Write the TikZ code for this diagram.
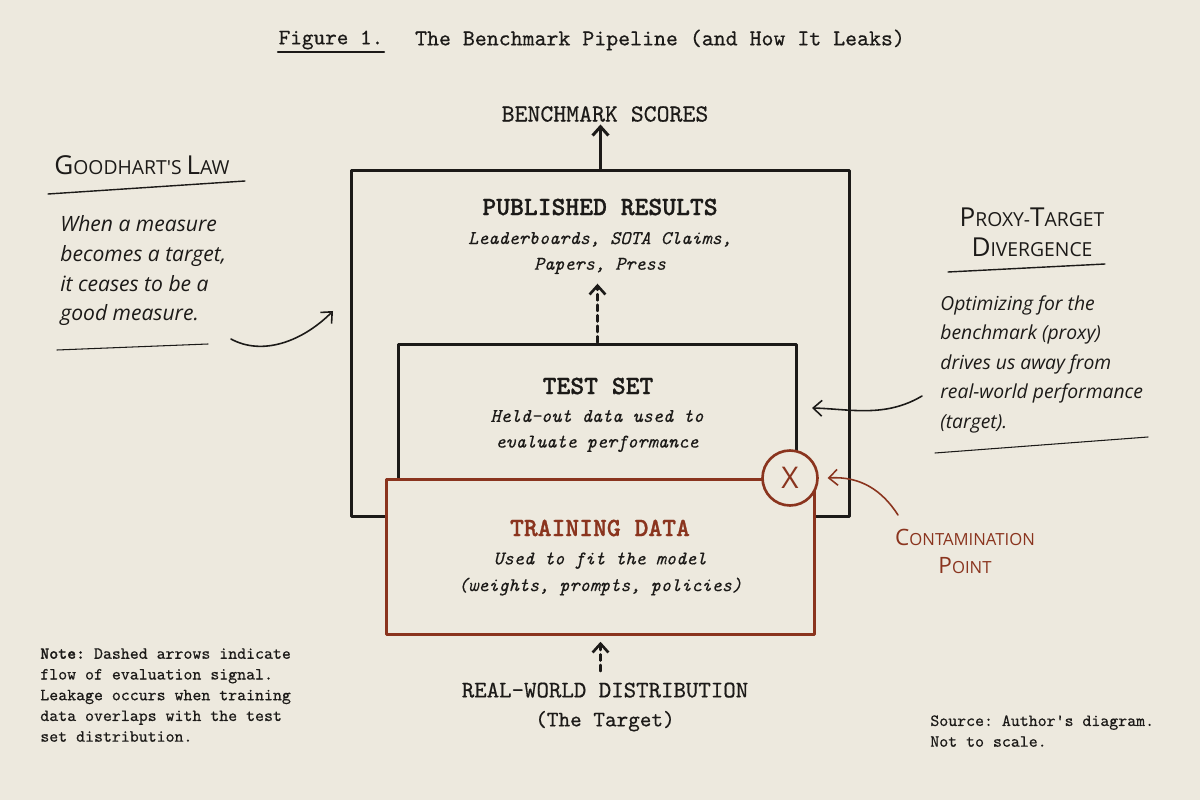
\documentclass[tikz,border=0pt]{standalone}
\usepackage{fontspec}
\setmonofont{lmmono10-regular.otf}[ItalicFont=lmmono10-italic.otf,BoldFont=lmmonolt10-bold.otf,
	UprightFeatures={FakeBold=0.5},ItalicFeatures={FakeBold=0.3},BoldFeatures={FakeBold=1}]
\newfontfamily\handfont{Open Sans}
\usetikzlibrary{arrows.meta,positioning}
\definecolor{paper}{RGB}{237,233,222}
\definecolor{ink}{RGB}{28,26,24}
\definecolor{rust}{RGB}{138,52,30}
\newcommand\hcap[1]{\scalebox{1.35}{#1}}
\begin{document}
\begin{tikzpicture}[x=0.02cm,y=-0.02cm,>={Straight Barb[length=5pt,width=9pt]},line join=round,line cap=round,
	box/.style={draw=ink,line width=1.7pt,inner sep=0pt},
	head/.style={font=\ttfamily\bfseries\fontsize{15}{18}\selectfont,text=ink},
	sub/.style={font=\ttfamily\itshape\fontsize{11}{14.6}\selectfont,text=ink,align=center},
	outlbl/.style={font=\ttfamily\fontsize{13.5}{16.5}\selectfont,text=ink,align=center},
	small/.style={font=\ttfamily\fontsize{9.7}{11.8}\selectfont,text=ink,align=left,anchor=north west,inner sep=0pt},
	hand/.style={font=\handfont\itshape\fontsize{12}{17}\selectfont,text=ink,align=left,anchor=north west,inner sep=0pt},
	handhead/.style={font=\handfont\fontsize{11}{17}\selectfont,text=ink,align=center},
	flow/.style={->,draw=ink,line width=1.7pt},
	eval/.style={->,draw=ink,line width=1.5pt,dash pattern=on 3.5pt off 2.5pt},
	note/.style={->,draw=ink,line width=0.9pt}]
			\def\xmid{600}
			\fill[paper] (0,0) rectangle (1200,800);
			\useasboundingbox (0,0) rectangle (1200,800);
			% title
			\node[outlbl,font=\ttfamily\fontsize{12.6}{15}\selectfont] (fig) at (331,40) {Figure 1.};
			\node[outlbl,font=\ttfamily\fontsize{12.95}{15}\selectfont] (ttl) at (660,40) {The Benchmark Pipeline (and How It Leaks)};
			\draw[ink,line width=1.1pt] ([xshift=3pt,yshift=2pt]fig.south west) -- ([xshift=-3pt,yshift=2pt]fig.south east);
			% boxes
			\node[box,minimum width=9.98cm,minimum height=6.94cm] (pub) at (600.5,343.5) {};
			\node[box,minimum width=7.98cm,minimum height=3.2cm] (test) at (597.5,424) {};
			\node[box,draw=rust,fill=paper,minimum width=8.58cm,minimum height=3.12cm] (train) at (600.5,557) {};
			\node[circle,draw=rust,fill=paper,line width=1.5pt,minimum size=1.1cm,inner sep=0pt,
				font=\handfont\fontsize{17}{17}\selectfont,text=rust] (leak) at (790,478) {X};
			% texts
			\node[outlbl,font=\ttfamily\fontsize{14}{17}\selectfont] (scores) at (605,114) {BENCHMARK SCORES};
			\node[head] (pubname) at (\xmid,207) {PUBLISHED RESULTS};
			\node[sub] (pubtxt) at (\xmid,253) {Leaderboards, SOTA Claims,\\Papers, Press};
			\node[head] (testname) at (598,386) {TEST SET};
			\node[sub] (testtxt) at (597,431) {Held-out data used to\\evaluate performance};
			\node[head,text=rust] (trainname) at (\xmid,528) {TRAINING DATA};
			\node[sub,font=\ttfamily\itshape\fontsize{11}{15.2}\selectfont] (traintxt) at (\xmid,574) {Used to fit the model\\(weights, prompts, policies)};
			\node[outlbl] (world) at (605,707) {REAL-WORLD DISTRIBUTION\\{\fontsize{12.6}{16.5}\selectfont(The Target)}};
			% arrows
			\draw[flow] (pub.north) -- ([yshift=2pt]pub.north |- scores.south);
			\draw[eval] (test.north) -- ([yshift=-2pt]test.north |- pubtxt.south);
			\draw[eval,shorten <=3pt,shorten >=3pt] (train.south |- world.north) -- (train.south);
			% goodhart
			\node[handhead] (gh) at (142,165) {\hcap{G}OODHART'S \hcap{L}AW};
			\draw[ink,line width=0.8pt] (48,194) -- (245,181);
			\node[hand] (ghtxt) at (60,215) {When a measure\\becomes a target,\\it ceases to be a\\good measure.};
			\draw[ink,line width=0.6pt] (57,350) -- (208,344);
			\coordinate (ghtail) at (231,339);
			\coordinate (ghtip) at (333,311);
			\draw[note] (ghtail) .. controls (262,356) and (302,342) .. (ghtip);
			% proxy-target
			\node[handhead] (ptd) at (1032,232) {\hcap{P}ROXY-\hcap{T}ARGET\\\hcap{D}IVERGENCE};
			\draw[ink,line width=0.8pt] (948,272) -- (1105,264);
			\node[hand,font=\handfont\itshape\fontsize{11}{16.8}\selectfont] (ptdtxt) at (940,295) {Optimizing for the\\benchmark (proxy)\\drives us away from\\real-world performance\\(target).};
			\draw[ink,line width=0.6pt] (935,453) -- (1148,437);
			\coordinate (ptdtail) at (922,396);
			\coordinate (ptdtip) at (812,408);
			\draw[note] (ptdtail) .. controls (885,418) and (850,409) .. (ptdtip);
			% contamination
			\node[handhead,text=rust,font=\handfont\fontsize{9.5}{16}\selectfont] (ctp) at (965,551) {\hcap{C}ONTAMINATION\\\hcap{P}OINT};
			\coordinate (ctptail) at (898,515);
			\draw[note,draw=rust] (ctptail) .. controls (882,490) and (860,476) .. ([xshift=5pt]leak.east);
			% notes
			\node[small] (note) at (40,648) {\textbf{Note:} Dashed arrows indicate\\flow of evaluation signal.\\Leakage occurs when training\\data overlaps with the test\\set distribution.};
			\node[small] (src) at (930,715) {Source: Author's diagram.\\Not to scale.};
	\end{tikzpicture}
\end{document}
